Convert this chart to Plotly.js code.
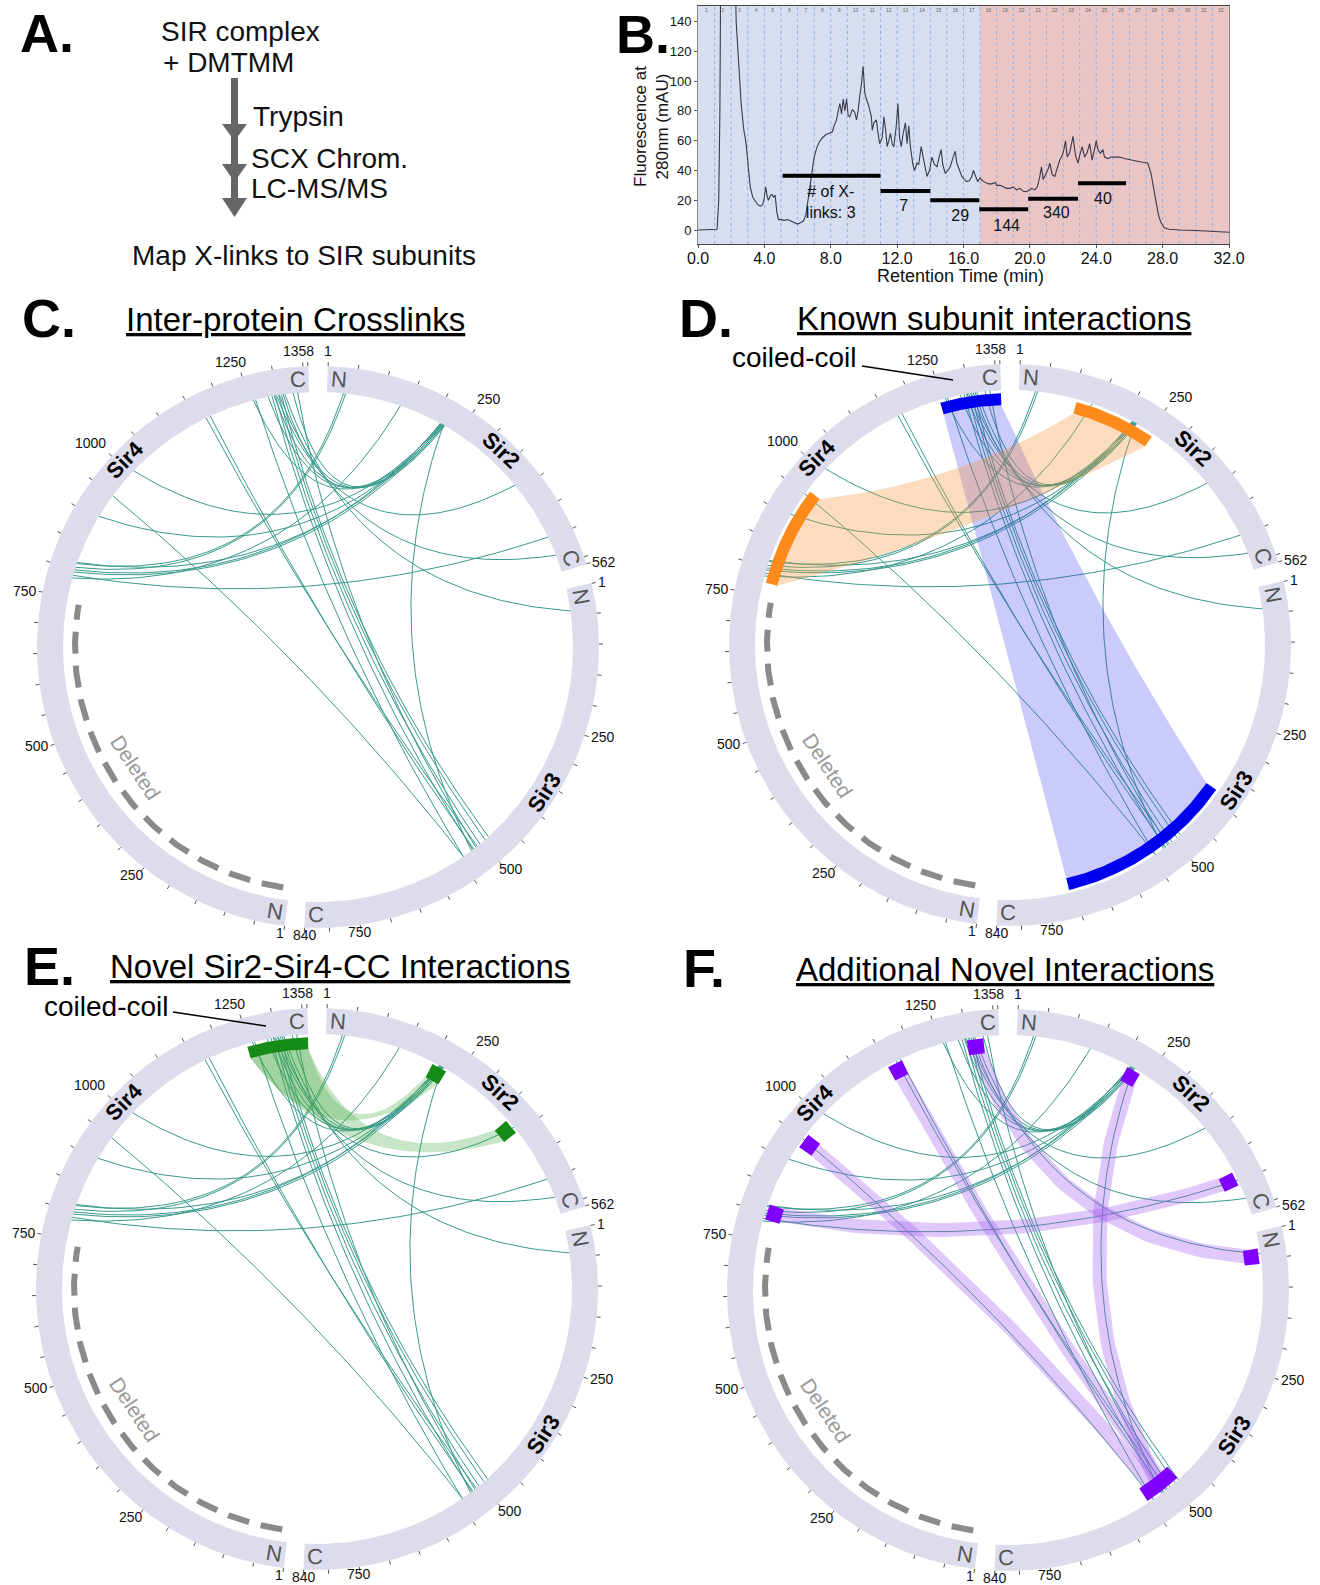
<!DOCTYPE html>
<html><head><meta charset="utf-8">
<script src="https://cdn.plot.ly/plotly-3.0.1.min.js"></script>
<style>body{margin:0;background:#fff}#chart{width:1320px;height:1585px}</style>
</head><body><div id="chart"></div>
<script>
// ===================== DATA =====================
// Panel B: SCX chromatogram
const retentionTime = [0,0.5,1.0,1.15,1.25,1.32,1.38,2.2,2.3,2.45,2.6,2.75,2.9,3.05,3.15,3.3,3.45,3.6,3.75,3.9,4.0,4.08,4.18,4.25,4.35,4.45,4.55,4.65,4.75,4.85,5.0,5.2,5.4,5.6,5.8,6.0,6.2,6.35,6.5,6.6,6.75,6.9,7.0,7.15,7.3,7.5,7.7,7.9,8.1,8.2,8.35,8.45,8.55,8.65,8.75,8.85,8.95,9.05,9.15,9.3,9.45,9.55,9.65,9.75,9.85,9.95,10.05,10.15,10.3,10.45,10.5,10.6,10.75,10.85,10.95,11.1,11.2,11.3,11.4,11.5,11.6,11.7,11.8,11.95,12.05,12.15,12.25,12.35,12.5,12.6,12.7,12.8,12.95,13.05,13.2,13.3,13.45,13.55,13.65,13.8,13.95,14.1,14.25,14.4,14.55,14.65,14.75,14.9,15.05,15.2,15.35,15.5,15.6,15.75,15.9,16.05,16.2,16.35,16.5,16.6,16.7,16.85,17.0,17.1,17.3,17.5,17.7,17.9,18.0,18.2,18.4,18.6,18.8,19.0,19.2,19.4,19.6,19.8,20.0,20.1,20.3,20.45,20.6,20.7,20.8,20.95,21.1,21.2,21.35,21.5,21.65,21.8,21.95,22.05,22.15,22.25,22.4,22.6,22.75,22.9,23.0,23.15,23.3,23.45,23.6,23.75,23.85,24.0,24.1,24.25,24.4,24.5,24.7,24.9,25.1,25.4,25.7,26.0,26.4,26.8,27.1,27.3,27.45,27.6,27.75,27.9,28.1,28.4,29.0,30.0,31.0,32.0];
const fluorescence = [0,0,0,0.5,20,80,200,200,140,110,85,68,58,40,29,22,19,17,16,17,22,29,22,20,23,24,22,23.5,12,7,7,6.5,7,6,4.5,4,5,6,10,18,29,40,49,55,59,62,64,65,66,70,74,80,85,78,88,80,88,77,76,81,79,74,80,90,98,110,92,88,83,76,67,72,74,65,58,62,76,68,56,60,65,58,56,70,85,62,56,64,72,58,70,56,44,40,45,44,56,50,45,36,40,49,44,42.5,50,54,44,38,40,42.5,48,53,45,40,36,34,32.5,33,36,40,37,32.5,35,33.6,32,31,31,32,30,30,29,28,28,29,27,28,26,25.8,27,28,27,29,36,42.5,34,37,41,45,37,36,42,47,50,54,60,49,52,63,50,45,50,56,49,52,58,47,52,60,54,51.5,54,49,48,49,49,49,48,47.5,46.4,45.5,45,38,29,18,10,5,1.5,0.5,0,-0.3,-1,-1.5];
const fractionNumbers = [1,2,3,4,5,6,7,8,9,10,11,12,13,14,15,16,17,18,19,20,21,22,23,24,25,26,27,28,29,30,31,32];
const poolStart = [5.1, 11.0, 14.0, 16.95, 19.9, 22.9];
const poolEnd   = [11.0, 14.0, 16.95, 19.9, 22.9, 25.8];
const poolLevel = [36.5, 26.2, 20, 13.9, 21, 31.4];
const poolLabel = ['# of X-<br>links: 3', '7', '29', '144', '340', '40'];
const poolLabelX = [8.0, 12.4, 15.8, 18.6, 21.6, 24.4];
const poolLabelY = [18, 15.7, 9, 2.2, 11, 20];
const retentionTicks = [0,4,8,12,16,20,24,28,32];
const fluorTicks = [0,20,40,60,80,100,120,140];

// Circos: proteins
const proteins = ['Sir2', 'Sir3', 'Sir4'];
const proteinLength = [562, 840, 1358];
const sir2Ticks = [1, 250, 562];
const sir3Ticks = [1, 250, 500, 750, 840];
const sir4Ticks = [1, 250, 500, 750, 1000, 1250, 1358];
const deletedRegion = [12, 740]; // Sir4 residues

// Inter-protein crosslinks
const linkProtA = ['Sir4','Sir4','Sir4','Sir4','Sir4','Sir4','Sir4','Sir4','Sir4','Sir4','Sir2','Sir4','Sir4','Sir4','Sir4','Sir4','Sir4','Sir4','Sir4','Sir4','Sir4','Sir4','Sir4','Sir4','Sir4','Sir4','Sir4'];
const linkResA  = [1262,1292,1298,1304,1309,1338,1315,1168,1176,949,218,1258,1285,1296,1312,1330,1300,1305,1007,905,814,800,796,790,812,805,785];
const linkProtB = ['Sir3','Sir3','Sir3','Sir3','Sir3','Sir3','Sir3','Sir3','Sir3','Sir3','Sir3','Sir2','Sir2','Sir2','Sir2','Sir2','Sir2','Sir2','Sir2','Sir2','Sir2','Sir2','Sir2','Sir2','Sir2','Sir2','Sir2'];
const linkResB  = [543,522,506,494,486,515,40,512,520,543,525,216,212,219,221,214,386,531,215,218,217,213,220,496,30,34,134];

// Panel D: known interactions (region A <-> region B)
const knownProtA = ['Sir4', 'Sir4'];
const knownStartA = [1247, 774];
const knownEndA = [1358, 958];
const knownProtB = ['Sir3', 'Sir2'];
const knownStartB = [383, 106];
const knownEndB = [711, 256];

// Panel E: novel Sir2 - Sir4 coiled-coil
const ccStart = 1247, ccEnd = 1358;
const novelSir2Start = [200, 368];
const novelSir2End = [228, 396];

// Panel F: additional novel interactions
const addProtA = ['Sir4','Sir4','Sir4','Sir4','Sir2'];
const addResA  = [1315, 1164, 947, 803, 221];
const addProtB = ['Sir3','Sir3','Sir3','Sir2','Sir3'];
const addResB  = [44, 512, 530, 492, 520];
const addMarkProt  = ['Sir4','Sir4','Sir4','Sir4','Sir2','Sir2','Sir3','Sir3'];
const addMarkStart = [1300, 1150, 933, 789, 208, 479, 30, 485];
const addMarkEnd   = [1330, 1178, 961, 817, 234, 505, 58, 553];

// ===================== GEOMETRY =====================
const panelCx = [318, 1010, 317, 1008];
const panelCy = [647, 645, 1289, 1290];
const GAP = 4;
const totalLen = proteinLength.reduce((a,b)=>a+b,0);
const DEG = (360 - 3*GAP) / totalLen;
const protStart = [];
{ let s = GAP/2; for (let i=0;i<3;i++){ protStart.push(s); s += proteinLength[i]*DEG + GAP; } }
const R_IN = 255, R_OUT = 281, R_MI = 240, R_MO = 252, R_RIB = 240;

function theta(p, res){ const i = proteins.indexOf(p); return (protStart[i] + (res-0.5)*DEG) * Math.PI/180; }
function rel(p, res, r){ const a = theta(p,res); return [r*Math.sin(a), -r*Math.cos(a)]; }
function abs(k, v){ return [panelCx[k]+v[0], panelCy[k]+v[1]]; }
function arcPts(k, p, r1, r2, rad){
  const n = Math.max(4, Math.ceil(Math.abs(r2-r1)/4));
  const out=[]; for(let i=0;i<=n;i++){ out.push(abs(k, rel(p, r1+(r2-r1)*i/n, rad))); } return out;
}
function bezPts(k, p1, res1, p2, res2, rad, f){
  const ff = (f===undefined) ? 0.35 : f;
  const P0 = rel(p1,res1,rad), P2 = rel(p2,res2,rad);
  const C = [ff*(P0[0]+P2[0])/2, ff*(P0[1]+P2[1])/2];
  const out=[]; const n=60;
  for(let i=0;i<=n;i++){ const t=i/n, a=(1-t)*(1-t), b=2*t*(1-t), c=t*t;
    out.push(abs(k,[a*P0[0]+b*C[0]+c*P2[0], a*P0[1]+b*C[1]+c*P2[1]])); }
  return out;
}
const PX = {xaxis:'x2', yaxis:'y2', hoverinfo:'skip', showlegend:false, type:'scatter'};
function polyTrace(pts, color){
  return Object.assign({mode:'lines', x:pts.map(p=>p[0]), y:pts.map(p=>p[1]), fill:'toself', fillcolor:color, line:{width:0, color:color}}, PX);
}
function lineTrace(segs, color, width, dash){
  const x=[], y=[]; segs.forEach(s=>{ s.forEach(p=>{x.push(p[0]); y.push(p[1]);}); x.push(null); y.push(null); });
  return Object.assign({mode:'lines', x, y, line:{width, color, dash: dash||'solid'}}, PX);
}
function sector(k, p, r1, r2, rin, rout){
  return arcPts(k,p,r1,r2,rout).concat(arcPts(k,p,r2,r1,rin));
}
function ribbon(k, pa, a1, a2, pb, b1, b2, rad, f){
  return arcPts(k,pa,a1,a2,rad).concat(bezPts(k,pa,a2,pb,b1,rad,f)).concat(arcPts(k,pb,b1,b2,rad)).concat(bezPts(k,pb,b2,pa,a1,rad,f));
}

const traces = [];
const annotations = [];
const shapes = [];
const FONT = 'Liberation Sans, Arial, Helvetica, sans-serif';
const NARROW = 'Liberation Sans Narrow, Arial Narrow, sans-serif';

// ===================== PANEL B =====================
const bAxis = {xaxis:'x', yaxis:'y', hoverinfo:'skip', showlegend:false, type:'scatter'};
{
  const vx=[], vy=[];
  fractionNumbers.slice(0,31).forEach(f=>{ vx.push(f,f,null); vy.push(-9.4,150.5,null); });
  traces.push(Object.assign({mode:'lines', x:vx, y:vy, line:{color:'#8fb0e6', width:1, dash:'dot'}}, bAxis));
  traces.push(Object.assign({mode:'text', x:fractionNumbers.map(f=>f-0.5), y:fractionNumbers.map(()=>147.5), text:fractionNumbers.map(String), textfont:{size:5, color:'#666', family:FONT}, cliponaxis:false}, bAxis));
  traces.push(Object.assign({mode:'lines', x:retentionTime, y:fluorescence, line:{color:'#3a3a4c', width:1.1}}, bAxis));
  const bx=[], by=[];
  poolStart.forEach((s,i)=>{ bx.push(s, poolEnd[i], null); by.push(poolLevel[i], poolLevel[i], null); });
  traces.push(Object.assign({mode:'lines', x:bx, y:by, line:{color:'#000', width:4}}, bAxis));
  traces.push(Object.assign({mode:'text', x:poolLabelX, y:poolLabelY, text:poolLabel, textfont:{size:16, color:'#111', family:FONT}, cliponaxis:false}, bAxis));
  shapes.push({type:'rect', xref:'x', yref:'y domain', x0:0, x1:17, y0:0, y1:1, fillcolor:'#d6def0', line:{width:0}, layer:'below'});
  shapes.push({type:'rect', xref:'x', yref:'y domain', x0:17, x1:32, y0:0, y1:1, fillcolor:'#e9c5c6', line:{width:0}, layer:'below'});
}
annotations.push({xref:'x2', yref:'y2', x:960, y:276, text:'Retention Time (min)', showarrow:false, font:{size:18, family:FONT, color:'#111'}});
annotations.push({xref:'x2', yref:'y2', x:651, y:127, text:'Fluorescence at<br>280nm (mAU)', textangle:-90, showarrow:false, font:{size:17, family:FONT, color:'#111'}});

// ===================== PANEL A =====================
const aText = ['SIR complex', '+ DMTMM', 'Trypsin', 'SCX Chrom.', 'LC-MS/MS'];
const aX = [159, 161, 251, 249, 249];
const aY = [31, 62, 116, 158, 188];
aText.forEach((t,i)=>annotations.push({xref:'x2', yref:'y2', x:aX[i], y:aY[i], xanchor:'left', yanchor:'middle', text:t, showarrow:false, font:{size:28, family:FONT, color:'#111'}}));
annotations.push({xref:'x2', yref:'y2', x:304, y:255, text:'Map X-links to SIR subunits', showarrow:false, font:{size:28, family:FONT, color:'#111'}});
shapes.push({type:'rect', xref:'x2', yref:'y2', x0:231, x1:238, y0:78, y1:200, fillcolor:'#666', line:{width:0}});
[[124,141],[164,182],[198,217]].forEach(h=>{
  shapes.push({type:'path', xref:'x2', yref:'y2', path:`M222,${h[0]} L247,${h[0]} L234.5,${h[1]} Z`, fillcolor:'#666', line:{width:0}});
});

// ===================== PANEL LETTERS & TITLES =====================
const letters = ['A.','B.','C.','D.','E.','F.'];
const letterX = [47, 643, 49, 706, 49, 704];
const letterY = [33, 34, 318, 318, 966, 968];
letters.forEach((t,i)=>annotations.push({xref:'x2', yref:'y2', x:letterX[i], y:letterY[i], text:'<b>'+t+'</b>', showarrow:false, font:{size:54, family:FONT, color:'#000'}}));
const titles = ['Inter-protein Crosslinks','Known subunit interactions','Novel Sir2-Sir4-CC Interactions','Additional Novel Interactions'];
const titleX = [295, 994, 340, 1005];
const titleY = [319, 318, 966, 969];
titles.forEach((t,i)=>annotations.push({xref:'x2', yref:'y2', x:titleX[i], y:titleY[i], text:'<u>'+t+'</u>', showarrow:false, font:{size:33, family:FONT, color:'#000'}}));

// ===================== CIRCOS BASE =====================
function drawBase(k){
  // ring
  proteins.forEach((p,i)=>traces.push(polyTrace(sector(k,p,0.5,proteinLength[i]+0.5,R_IN,R_OUT), '#dcdcec')));
  // ticks
  const segs=[];
  proteins.forEach((p,i)=>{
    const L=proteinLength[i]; const tl=[1]; for(let r=50;r<L;r+=50) tl.push(r); tl.push(L);
    tl.forEach(r=>segs.push([abs(k,rel(p,r,R_OUT)), abs(k,rel(p,r,R_OUT+4))]));
  });
  traces.push(lineTrace(segs, '#555', 1));
  // tick labels
  const lab = {Sir2:sir2Ticks, Sir3:sir3Ticks, Sir4:sir4Ticks};
  proteins.forEach(p=>lab[p].forEach(r=>{
    const a = theta(p,r), s=Math.sin(a), c=Math.cos(a);
    let xa = s>0.3?'left':(s<-0.3?'right':'center');
    const ya = c>0.35?'bottom':(c<-0.35?'top':'middle');
    const off = ya==='top' ? -2 : (ya==='bottom' ? 6 : 5);
    const pt = abs(k, rel(p,r,R_OUT+off));
    let dx = 0;
    if (Math.abs(s)<=0.3 && p==='Sir4'){ xa='right'; dx = c>0 ? 7 : 0; }
    annotations.push({xref:'x2', yref:'y2', x:pt[0]+dx, y:pt[1], text:String(r), showarrow:false,
      xanchor: xa, yanchor: ya, font:{size:14, family:FONT, color:'#111'}, borderpad:0});
  }));
  // deleted region
  traces.push(lineTrace([arcPts(k,'Sir4',deletedRegion[0],deletedRegion[1],243)], '#8a8a8a', 6, '22px,12px'));
  // labels
  const nameRes = [326, 364, 1011];
  proteins.forEach((p,i)=>{
    const a = theta(p,nameRes[i])*180/Math.PI; const pt=abs(k,rel(p,nameRes[i],268.5));
    const ang = (a>90 && a<270) ? a-180 : (a>180? a-360 : a);
    annotations.push({xref:'x2', yref:'y2', x:pt[0], y:pt[1], text:'<b>'+p+'</b>', textangle:ang, showarrow:false, font:{size:22, family:FONT, color:'#000'}});
    ['N','C'].forEach(e=>{
      const r = e==='N'?20:proteinLength[i]-18;
      const a2 = theta(p,r)*180/Math.PI; const q=abs(k,rel(p,r,268));
      const ang2 = (a2>90 && a2<270) ? a2-180 : (a2>180? a2-360 : a2);
      annotations.push({xref:'x2', yref:'y2', x:q[0], y:q[1], text:e, textangle:ang2, showarrow:false, font:{size:22, family:FONT, color:'#555'}});
    });
  });
  const dpt = abs(k, rel('Sir4', 395, 219)); const da = theta('Sir4',395)*180/Math.PI - 180;
  annotations.push({xref:'x2', yref:'y2', x:dpt[0], y:dpt[1], text:'Deleted', textangle:da, showarrow:false, font:{size:21, family:FONT, color:'#999'}});
  // crosslinks
  const segsL = linkProtA.map((p,i)=>bezPts(k,p,linkResA[i],linkProtB[i],linkResB[i],R_IN));
  traces.push(lineTrace(segsL, '#3a9a8d', 1));
}
[0,1,2,3].forEach(drawBase);

// ===================== PANEL D overlays =====================
const knownFill = ['rgba(60,60,240,0.27)', 'rgba(245,150,60,0.33)'];
const knownMark = ['#0000f0', '#ff8a1c'];
knownProtA.forEach((p,i)=>traces.push(polyTrace(ribbon(1,p,knownStartA[i],knownEndA[i],knownProtB[i],knownStartB[i],knownEndB[i],R_RIB,0.85), knownFill[i])));
knownProtA.forEach((p,i)=>{
  traces.push(polyTrace(sector(1,p,knownStartA[i],knownEndA[i],R_MI,R_MO), knownMark[i]));
  traces.push(polyTrace(sector(1,knownProtB[i],knownStartB[i],knownEndB[i],R_MI,R_MO), knownMark[i]));
});
annotations.push({xref:'x2', yref:'y2', x:730, y:357, xanchor:'left', text:'coiled-coil', showarrow:false, font:{size:28, family:FONT, color:'#000'}});
shapes.push({type:'line', xref:'x2', yref:'y2', x0:862, y0:366, x1:953, y1:380, line:{color:'#000', width:1.5}});

// ===================== PANEL E overlays =====================
novelSir2Start.forEach((s,i)=>traces.push(polyTrace(ribbon(2,'Sir4',ccStart,ccEnd,'Sir2',s,novelSir2End[i],R_RIB,0.55), 'rgba(70,170,70,0.3)')));
traces.push(polyTrace(sector(2,'Sir4',ccStart,ccEnd,R_MI,R_MO), '#168c16'));
novelSir2Start.forEach((s,i)=>traces.push(polyTrace(sector(2,'Sir2',s,novelSir2End[i],R_MI-2,R_MO+1), '#168c16')));
annotations.push({xref:'x2', yref:'y2', x:42, y:1006, xanchor:'left', text:'coiled-coil', showarrow:false, font:{size:28, family:FONT, color:'#000'}});
shapes.push({type:'line', xref:'x2', yref:'y2', x0:173, y0:1012, x1:266, y1:1026, line:{color:'#000', width:1.5}});

// ===================== PANEL F overlays =====================
addProtA.forEach((p,i)=>traces.push(lineTrace([bezPts(3,p,addResA[i],addProtB[i],addResB[i],246)], 'rgba(160,90,240,0.33)', 14)));
addMarkProt.forEach((p,i)=>traces.push(polyTrace(sector(3,p,addMarkStart[i],addMarkEnd[i],R_MI-2,R_MO+1), '#8000ff')));

// ===================== LAYOUT =====================
const layout = {
  width:1320, height:1585, margin:{l:0,r:0,t:0,b:0}, autosize:false,
  paper_bgcolor:'#ffffff', plot_bgcolor:'rgba(0,0,0,0)', showlegend:false,
  font:{family:FONT},
  xaxis:{domain:[698/1320, 1229/1320], anchor:'y', range:[0,32], tickvals:retentionTicks, ticktext:retentionTicks.map(v=>v.toFixed(1)),
    ticks:'outside', ticklen:3, tickcolor:'#555', ticklabelstandoff:-3, tickfont:{family:NARROW, size:16, color:'#111'},
    showline:true, linecolor:'#444', linewidth:1, mirror:true, showgrid:false, zeroline:false, fixedrange:true},
  yaxis:{domain:[1-244/1585, 1-6/1585], anchor:'x', range:[-9.4,150.5], tickvals:fluorTicks,
    ticks:'outside', ticklen:3, tickcolor:'#555', tickfont:{family:NARROW, size:13, color:'#111'},
    showline:true, linecolor:'#888', linewidth:1, mirror:true, showgrid:false, zeroline:false, fixedrange:true},
  xaxis2:{domain:[0,1], anchor:'y2', range:[0,1320], visible:false, fixedrange:true},
  yaxis2:{domain:[0,1], anchor:'x2', range:[1585,0], visible:false, fixedrange:true},
  annotations, shapes
};
Plotly.newPlot('chart', traces, layout, {staticPlot:true, displayModeBar:false});
</script></body></html>
